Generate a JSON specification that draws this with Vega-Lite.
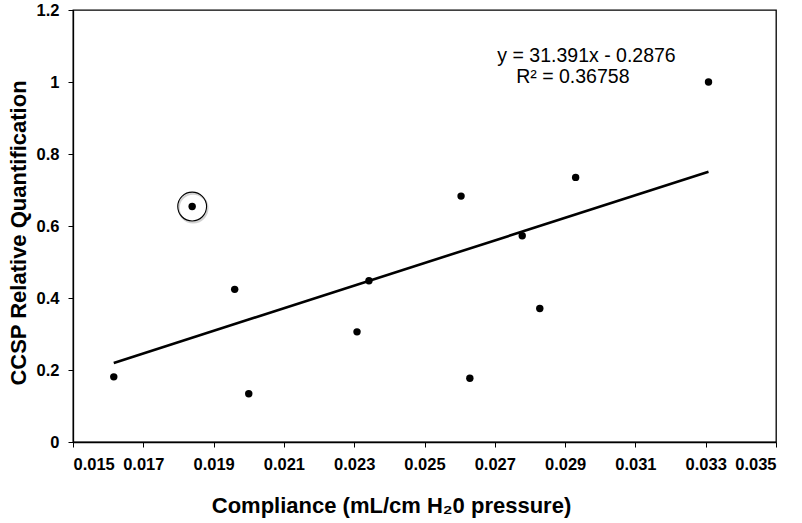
{
  "$schema": "https://vega.github.io/schema/vega-lite/v6.json",
  "autosize": {"type": "none"},
  "width": 703,
  "height": 432,
  "padding": {"left": 73, "top": 10, "right": 26, "bottom": 81},
  "background": "white",
  "config": {
    "font": "Liberation Sans",
    "view": {"stroke": "black", "strokeWidth": 1.3},
    "axis": {
      "grid": false,
      "domainColor": "black",
      "domainWidth": 1.3,
      "tickColor": "black",
      "tickWidth": 1,
      "tickSize": 5,
      "labelFont": "Liberation Sans",
      "labelFontWeight": "bold",
      "labelFontSize": 16.5,
      "labelColor": "black",
      "titleFont": "Liberation Sans",
      "titleFontWeight": "bold",
      "titleFontSize": 22,
      "titleColor": "black"
    }
  },
  "datasets": {
    "pts": [
      {"compliance": 0.01616, "ccsp": 0.181, "circled": false},
      {"compliance": 0.01839, "ccsp": 0.654, "circled": true},
      {"compliance": 0.0196, "ccsp": 0.424, "circled": false},
      {"compliance": 0.0200, "ccsp": 0.134, "circled": false},
      {"compliance": 0.02308, "ccsp": 0.306, "circled": false},
      {"compliance": 0.02342, "ccsp": 0.448, "circled": false},
      {"compliance": 0.02604, "ccsp": 0.683, "circled": false},
      {"compliance": 0.02629, "ccsp": 0.177, "circled": false},
      {"compliance": 0.02778, "ccsp": 0.573, "circled": false},
      {"compliance": 0.02828, "ccsp": 0.371, "circled": false},
      {"compliance": 0.0293, "ccsp": 0.735, "circled": false},
      {"compliance": 0.03308, "ccsp": 1.0, "circled": false}
    ],
    "fit": [
      {"compliance": 0.01616, "ccsp": 0.2197},
      {"compliance": 0.03308, "ccsp": 0.7508}
    ],
    "notes": [
      {"compliance": 0.02961, "ccsp": 1.056, "label": "y = 31.391x - 0.2876"},
      {"compliance": 0.02922, "ccsp": 0.998, "label": "R² = 0.36758"}
    ]
  },
  "encoding": {
    "x": {
      "field": "compliance",
      "type": "quantitative",
      "scale": {"domain": [0.015, 0.035], "nice": false, "zero": false},
      "axis": {
        "title": "Compliance (mL/cm H₂0 pressure)",
        "values": [0.015, 0.017, 0.019, 0.021, 0.023, 0.025, 0.027, 0.029, 0.031, 0.033, 0.035],
        "format": ".3f",
        "labelPadding": 9,
        "titleX": 318,
        "titleY": 70,
        "titleBaseline": "alphabetic",
        "titleAnchor": "start",
        "titleAlign": "center"
      }
    },
    "y": {
      "field": "ccsp",
      "type": "quantitative",
      "scale": {"domain": [0, 1.2], "nice": false},
      "axis": {
        "title": "CCSP Relative Quantification",
        "values": [0, 0.2, 0.4, 0.6, 0.8, 1.0, 1.2],
        "format": ".1~f",
        "labelPadding": 9,
        "titleX": -47.5,
        "titleY": 222.5,
        "titleBaseline": "alphabetic",
        "titleAngle": 270,
        "titleAlign": "center"
      }
    }
  },
  "layer": [
    {
      "data": {"name": "fit"},
      "mark": {"type": "line", "color": "black", "strokeWidth": 2.6},
      "encoding": {}
    },
    {
      "data": {"name": "pts"},
      "mark": {"type": "point", "shape": "circle", "filled": true, "color": "black", "opacity": 1, "size": 55}
    },
    {
      "data": {"name": "pts"},
      "transform": [{"filter": "datum.circled"}],
      "mark": {"type": "point", "shape": "circle", "filled": false, "color": "#c8c8c8", "strokeWidth": 2, "opacity": 0.8, "size": 830, "xOffset": 1, "yOffset": 1.5}
    },
    {
      "data": {"name": "pts"},
      "transform": [{"filter": "datum.circled"}],
      "mark": {"type": "point", "shape": "circle", "filled": false, "color": "black", "strokeWidth": 1.1, "opacity": 1, "size": 830}
    },
    {
      "data": {"name": "notes"},
      "mark": {"type": "text", "font": "Liberation Sans", "fontSize": 19.5, "align": "center", "baseline": "alphabetic", "color": "black"},
      "encoding": {"text": {"field": "label", "type": "nominal"}}
    }
  ]
}
